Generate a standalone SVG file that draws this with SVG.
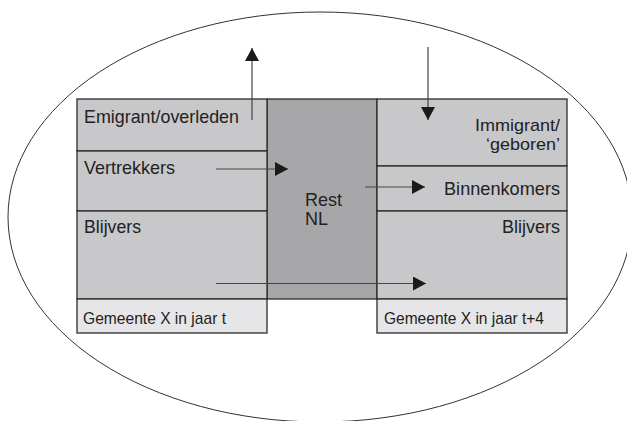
<svg xmlns="http://www.w3.org/2000/svg" width="627" height="421" viewBox="0 0 627 421">
<style>
.bg{fill:#fff}
.box{fill:#c8c8ca;stroke:#2b2b2b;stroke-width:1.3}
.mid{fill:#a7a7a9;stroke:#2b2b2b;stroke-width:1.3}
.lab{fill:#e6e6e8;stroke:#2b2b2b;stroke-width:1.3}
.t{font-family:"Liberation Sans",Arial,sans-serif;font-size:19px;fill:#222}
.te{font-family:"Liberation Sans",Arial,sans-serif;font-size:19px;fill:#222;text-anchor:end}
.tn{font-family:"Liberation Sans",Arial,sans-serif;font-size:17px;fill:#222;text-anchor:end}
.ts{font-family:"Liberation Sans",Arial,sans-serif;font-size:17px;fill:#222}
.ell{fill:none;stroke:#333;stroke-width:1}
.con{stroke:#444;stroke-width:1.2;fill:none}
</style>
<defs>
<marker id="ah" markerUnits="userSpaceOnUse" markerWidth="13" markerHeight="14" refX="13" refY="7" orient="auto">
<path d="M0,0 L13,7 L0,14 Z" fill="#1a1a1a"/>
</marker>
</defs>
<rect class="bg" x="0" y="0" width="627" height="421"/>
<g id="boundary"><ellipse class="ell" cx="320" cy="217" rx="312" ry="205"/></g>
<g id="rest-nl">
<rect class="mid" x="267" y="99" width="110" height="200"/>
<text class="t" x="305" y="205.5" textLength="37" lengthAdjust="spacingAndGlyphs">Rest</text>
<text class="t" x="305" y="225" textLength="23" lengthAdjust="spacingAndGlyphs">NL</text>
</g>
<g id="left-emigrant">
<rect class="box" x="77" y="99" width="190" height="52"/>
<text class="t" x="84" y="123" textLength="155" lengthAdjust="spacingAndGlyphs">Emigrant/overleden</text>
</g>
<g id="left-vertrekkers">
<rect class="box" x="77" y="151" width="190" height="60"/>
<text class="t" x="84" y="173.5" textLength="91" lengthAdjust="spacingAndGlyphs">Vertrekkers</text>
</g>
<g id="left-blijvers">
<rect class="box" x="77" y="211" width="190" height="88"/>
<text class="t" x="84" y="233" textLength="57" lengthAdjust="spacingAndGlyphs">Blijvers</text>
</g>
<g id="left-label">
<rect class="lab" x="77" y="299" width="190" height="34"/>
<text class="ts" x="83" y="324" textLength="143" lengthAdjust="spacingAndGlyphs">Gemeente X in jaar t</text>
</g>
<g id="right-immigrant">
<rect class="box" x="377" y="99" width="190" height="67"/>
<text class="tn" x="560" y="130.5" textLength="85" lengthAdjust="spacingAndGlyphs">Immigrant/</text>
<text class="tn" x="560" y="150" textLength="74" lengthAdjust="spacingAndGlyphs">‘geboren’</text>
</g>
<g id="right-binnenkomers">
<rect class="box" x="377" y="166" width="190" height="45"/>
<text class="te" x="560" y="195" textLength="116" lengthAdjust="spacingAndGlyphs">Binnenkomers</text>
</g>
<g id="right-blijvers">
<rect class="box" x="377" y="211" width="190" height="88"/>
<text class="te" x="560" y="232.5" textLength="58" lengthAdjust="spacingAndGlyphs">Blijvers</text>
</g>
<g id="right-label">
<rect class="lab" x="377" y="299" width="190" height="34"/>
<text class="ts" x="384" y="324" textLength="160" lengthAdjust="spacingAndGlyphs">Gemeente X in jaar t+4</text>
</g>
<g id="connectors">
<line class="con" x1="252" y1="120" x2="252" y2="48" marker-end="url(#ah)"/>
<line class="con" x1="428" y1="47" x2="428" y2="120" marker-end="url(#ah)"/>
<line class="con" x1="216" y1="169" x2="288" y2="169" marker-end="url(#ah)"/>
<line class="con" x1="365" y1="187" x2="425" y2="187" marker-end="url(#ah)"/>
<line class="con" x1="216" y1="283.5" x2="426" y2="283.5" marker-end="url(#ah)"/>
</g>
</svg>
